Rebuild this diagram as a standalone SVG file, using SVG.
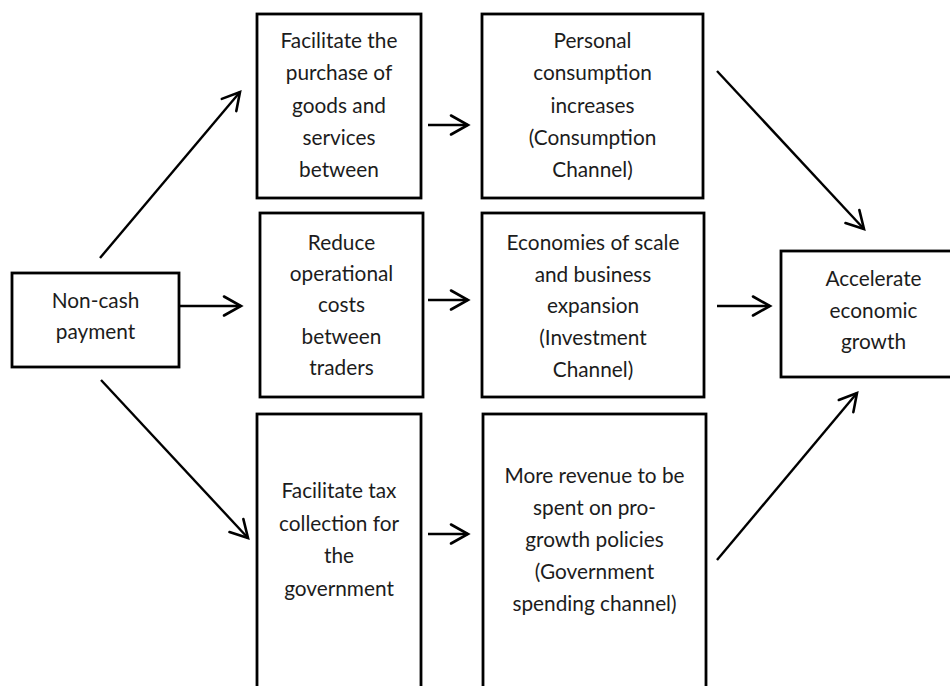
<svg xmlns="http://www.w3.org/2000/svg" width="950" height="686" viewBox="0 0 950 686">
  <style>
    .box { fill: #ffffff; stroke: #000000; stroke-width: 2.8; }
    .lbl { font-family: Lato, Carlito, Calibri, "Liberation Sans", sans-serif; font-size: 20.8px; fill: #1c1c1c; text-anchor: middle; }
    .link { fill: none; stroke: #000000; stroke-width: 2.4; marker-end: url(#head); }
  </style>
  <defs>
    <marker id="head" markerUnits="userSpaceOnUse" markerWidth="24" markerHeight="24" viewBox="-20 -12 24 24" refX="0" refY="0" orient="auto">
      <path d="M-17,-9.5 L0,0 L-17,9.5" fill="none" stroke="#000000" stroke-width="2.6" stroke-linecap="round" stroke-linejoin="miter"/>
    </marker>
  </defs>
  <rect width="950" height="686" fill="#ffffff"/>

  <g id="non-cash">
    <rect class="box" x="12" y="273" width="167" height="94"/>
    <text class="lbl" x="95.5" y="308">Non-cash</text>
    <text class="lbl" x="95.5" y="339">payment</text>
  </g>

  <g id="facilitate-purchase">
    <rect class="box" x="257" y="14" width="164" height="184"/>
    <text class="lbl" x="339" y="48">Facilitate the</text>
    <text class="lbl" x="339" y="80">purchase of</text>
    <text class="lbl" x="339" y="113">goods and</text>
    <text class="lbl" x="339" y="145">services</text>
    <text class="lbl" x="339" y="177">between</text>
  </g>

  <g id="personal-consumption">
    <rect class="box" x="482" y="14" width="221" height="184"/>
    <text class="lbl" x="592.5" y="48">Personal</text>
    <text class="lbl" x="592.5" y="80">consumption</text>
    <text class="lbl" x="592.5" y="113">increases</text>
    <text class="lbl" x="592.5" y="145">(Consumption</text>
    <text class="lbl" x="592.5" y="177">Channel)</text>
  </g>

  <g id="reduce-costs">
    <rect class="box" x="260" y="213" width="163" height="184"/>
    <text class="lbl" x="341.5" y="250">Reduce</text>
    <text class="lbl" x="341.5" y="281">operational</text>
    <text class="lbl" x="341.5" y="312">costs</text>
    <text class="lbl" x="341.5" y="344">between</text>
    <text class="lbl" x="341.5" y="375">traders</text>
  </g>

  <g id="economies-of-scale">
    <rect class="box" x="482" y="213" width="222" height="184"/>
    <text class="lbl" x="593" y="250">Economies of scale</text>
    <text class="lbl" x="593" y="282">and business</text>
    <text class="lbl" x="593" y="313">expansion</text>
    <text class="lbl" x="593" y="345">(Investment</text>
    <text class="lbl" x="593" y="377">Channel)</text>
  </g>

  <g id="facilitate-tax">
    <rect class="box" x="257" y="414" width="164" height="290"/>
    <text class="lbl" x="339" y="498">Facilitate tax</text>
    <text class="lbl" x="339" y="531">collection for</text>
    <text class="lbl" x="339" y="563">the</text>
    <text class="lbl" x="339" y="596">government</text>
  </g>

  <g id="more-revenue">
    <rect class="box" x="483" y="414" width="223" height="290"/>
    <text class="lbl" x="594.5" y="483">More revenue to be</text>
    <text class="lbl" x="594.5" y="515">spent on pro-</text>
    <text class="lbl" x="594.5" y="547">growth policies</text>
    <text class="lbl" x="594.5" y="579">(Government</text>
    <text class="lbl" x="594.5" y="611">spending channel)</text>
  </g>

  <g id="accelerate-growth">
    <rect class="box" x="781" y="251" width="200" height="126"/>
    <text class="lbl" x="873.5" y="286">Accelerate</text>
    <text class="lbl" x="873.5" y="318">economic</text>
    <text class="lbl" x="873.5" y="349">growth</text>
  </g>

  <g id="connectors">
    <line class="link" x1="100" y1="258" x2="240" y2="92"/>
    <line class="link" x1="179" y1="306" x2="241" y2="306"/>
    <line class="link" x1="101" y1="380" x2="248" y2="538"/>
    <line class="link" x1="428" y1="125" x2="468" y2="125"/>
    <line class="link" x1="428" y1="300" x2="468" y2="300"/>
    <line class="link" x1="428" y1="534" x2="468" y2="534"/>
    <line class="link" x1="717" y1="71" x2="864" y2="229"/>
    <line class="link" x1="717" y1="306" x2="770" y2="306"/>
    <line class="link" x1="717" y1="560" x2="857" y2="393"/>
  </g>
</svg>
